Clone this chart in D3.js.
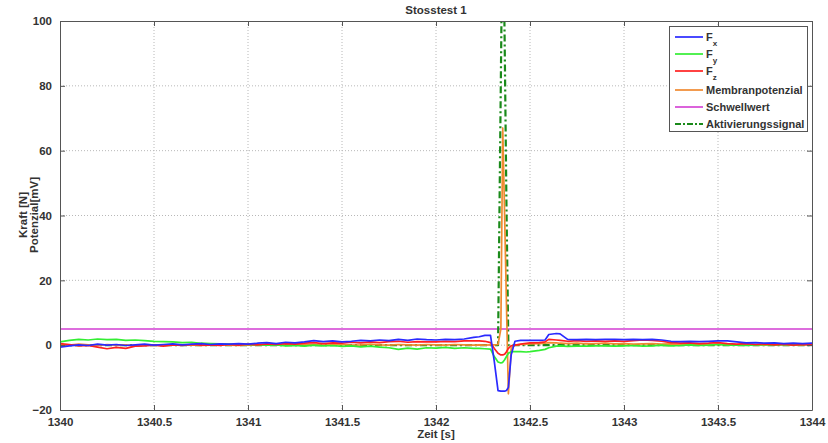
<!DOCTYPE html>
<html>
<head>
<meta charset="utf-8">
<script src="https://cdn.jsdelivr.net/npm/d3@7"></script>
<style>
  body { margin: 0; background: #fff; }
  text { font-family: "Liberation Sans", Arial, sans-serif; }
</style>
</head>
<body>
<div id="chart"></div>
<script>
// time axis [s]
const zeit = [
  1340.00, 1340.05, 1340.10, 1340.15, 1340.20, 1340.25, 1340.30, 1340.35, 1340.40, 1340.45,
  1340.50, 1340.55, 1340.60, 1340.65, 1340.70, 1340.75, 1340.80, 1340.85, 1340.90, 1340.95,
  1341.00, 1341.05, 1341.10, 1341.15, 1341.20, 1341.25, 1341.30, 1341.35, 1341.40, 1341.45,
  1341.50, 1341.55, 1341.60, 1341.65, 1341.70, 1341.75, 1341.80, 1341.85, 1341.90, 1341.95,
  1342.00, 1342.05, 1342.10, 1342.15, 1342.20,
  1342.23, 1342.26, 1342.29, 1342.31, 1342.33, 1342.345, 1342.355, 1342.365, 1342.375, 1342.385,
  1342.40, 1342.42, 1342.45, 1342.48,
  1342.50, 1342.55, 1342.58, 1342.60, 1342.64, 1342.66,
  1342.70, 1342.75, 1342.80, 1342.85, 1342.90, 1342.95, 1343.00, 1343.05, 1343.10, 1343.15,
  1343.20, 1343.25, 1343.30, 1343.35, 1343.40, 1343.45, 1343.50, 1343.55, 1343.60, 1343.65,
  1343.70, 1343.75, 1343.80, 1343.85, 1343.90, 1343.95, 1344.00
];

const fx = [
  -0.6, -0.2, 0.1, -0.1, 0.3, 0.0, 0.2, -0.1, 0.1, 0.3,
  0.0, 0.2, 0.4, 0.1, 0.3, 0.5, 0.2, 0.4, 0.3, 0.5,
  0.3, 0.6, 0.8, 0.5, 0.9, 0.7, 1.0, 1.4, 1.1, 1.3,
  1.0, 1.2, 1.5, 1.3, 1.6, 1.4, 1.8, 1.5, 1.9, 1.7,
  1.6, 1.8, 1.7, 1.9, 2.4,
  2.6, 3.0, 3.0, -5.0, -14.0, -14.2, -14.2, -14.2, -14.0, -13.0,
  -3.0, 1.2, 1.5, 1.5,
  1.5, 1.5, 1.6, 3.3, 3.6, 3.5,
  1.8, 1.7, 1.8, 1.7, 1.8, 1.8, 1.7, 1.8, 1.7, 1.8,
  1.6, 1.2, 1.1, 1.2, 1.1, 1.2, 1.3, 1.3, 1.0, 0.7,
  0.8, 0.6, 0.7, 0.5, 0.6, 0.5, 0.6
];

const fy = [
  1.0, 1.5, 1.8, 1.6, 1.9, 1.7, 1.8, 1.5, 1.6, 1.4,
  1.2, 1.1, 1.0, 0.8, 0.9, 0.6, 0.5, 0.4, 0.3, 0.2,
  0.2, 0.1, 0.0, 0.1, -0.2, -0.1, -0.3, 0.0, -0.2, -0.1,
  -0.4, -0.2, -0.5, -0.3, -0.6, -0.8, -1.3, -0.9, -1.2, -0.8,
  -0.9, -0.7, -1.0, -0.8, -1.0,
  -1.0, -1.1, -1.2, -3.5, -5.2, -5.5, -5.3, -4.5, -3.5, -2.5,
  -2.0, -2.0, -2.0, -2.1,
  -2.0, -1.6, -1.3, -0.8, -0.3, -0.2,
  -0.4, -0.3, -0.3, -0.2, -0.2, -0.3, -0.2, -0.1, -0.3, -0.2,
  0.0, -0.2, -0.1, 0.1, -0.1, 0.0, 0.2, 0.0, 0.1, -0.1,
  0.1, 0.2, 0.0, 0.2, 0.1, 0.3, 0.2
];

const fz = [
  0.5, 0.2, -0.2, -0.1, -0.6, -1.1, -0.7, -1.0, -0.3, -0.2,
  0.0, -0.3, 0.1, -0.1, 0.2, 0.0, 0.1, -0.1, 0.2, 0.0,
  0.3, 0.1, 0.4, 0.2, 0.5, 0.3, 0.6, 0.8, 0.5, 0.7,
  0.6, 0.9, 0.7, 1.0, 0.8, 1.1, 1.2, 0.9, 1.1, 1.0,
  1.0, 1.2, 1.1, 1.3, 1.3,
  1.3, 1.2, 0.8, -1.0, -2.5, -3.0, -3.0, -2.8, -2.0, -1.0,
  -0.2, 0.0, 0.3, 0.6,
  0.7, 0.8, 1.0, 1.8, 1.6, 1.5,
  1.2, 1.4, 1.2, 1.3, 1.2, 1.3, 1.2, 1.4, 1.6, 1.5,
  1.2, 0.8, 0.6, 0.7, 0.5, 0.6, 0.8, 0.5, 0.3, 0.5,
  0.2, 0.4, 0.1, 0.3, 0.0, 0.2, 0.1
];

const membranpotenzial = [
  0.2, 0.0, 0.3, 0.1, -0.1, 0.2, 0.0, 0.1, -0.2, 0.0,
  0.1, -0.1, 0.2, 0.0, 0.1, -0.1, 0.0, 0.2, 0.0, -0.1,
  0.1, 0.0, 0.2, 0.1, 0.0, 0.3, 0.1, 0.2, 0.0, 0.1,
  0.2, 0.0, 0.1, 0.3, 0.1, 0.0, 0.2, 0.1, 0.0, 0.2,
  0.1, 0.0, 0.2, 0.1, 0.0,
  0.1, 0.0, 0.1, 0.1, 0.2, 5.0, 67.0, 40.0, 12.0, -15.0,
  -1.0, 0.0, 0.2, 0.3,
  0.4, 0.5, 0.6, 0.8, 0.7, 0.6,
  0.5, 0.6, 0.4, 0.5, 0.6, 0.4, 0.5, 0.3, 0.4, 0.5,
  0.3, 0.4, 0.2, 0.3, 0.2, 0.1, 0.3, 0.2, 0.0, 0.2,
  0.1, 0.0, 0.2, 0.1, 0.0, 0.1, 0.2
];

const aktivierung = [
  0, 0, 0, 0, 0, 0, 0, 0, 0, 0,
  0, 0, 0, 0, 0, 0, 0, 0, 0, 0,
  0, 0, 0, 0, 0, 0, 0, 0, 0, 0,
  0, 0, 0, 0, 0, 0, 0, 0, 0, 0,
  0, 0, 0, 0, 0,
  0, 0, 0, 0, 0, 82, 140, 95, 42, 0,
  0, 0, 0, 0,
  0, 0, 0, 0, 0, 0,
  0, 0, 0, 0, 0, 0, 0, 0, 0, 0,
  0, 0, 0, 0, 0, 0, 0, 0, 0, 0,
  0, 0, 0, 0, 0, 0, 0
];

const schwellwert = [5, 5];
const schwellZeit = [1340, 1344];

const xTicks = [1340, 1340.5, 1341, 1341.5, 1342, 1342.5, 1343, 1343.5, 1344];
const yTicks = [-20, 0, 20, 40, 60, 80, 100];

const series = [
  {name: "F", sub: "x", values: fx, color: "#2a2aff", width: 1.7, dash: null},
  {name: "F", sub: "y", values: fy, color: "#33ee33", width: 1.7, dash: null},
  {name: "F", sub: "z", values: fz, color: "#ff2020", width: 1.7, dash: null},
  {name: "Membranpotenzial", sub: null, values: membranpotenzial, color: "#f08a30", width: 1.7, dash: null},
  {name: "Schwellwert", sub: null, values: null, color: "#d23cd2", width: 1.6, dash: null},
  {name: "Aktivierungssignal", sub: null, values: aktivierung, color: "#1a8a1a", width: 2.2, dash: "7,3,2,3"}
];

const W = 828, H = 443;
const margin = {top: 21, right: 16, bottom: 33, left: 60};
const width = W - margin.left - margin.right,
      height = H - margin.top - margin.bottom;

const svg = d3.select("#chart").append("svg").attr("width", W).attr("height", H);
const g = svg.append("g").attr("transform", `translate(${margin.left},${margin.top})`);

const x = d3.scaleLinear().domain([1340, 1344]).range([0, width]);
const y = d3.scaleLinear().domain([-20, 100]).range([height, 0]);

// grid
g.append("g").selectAll("line").data(xTicks.slice(1, -1)).join("line")
  .attr("x1", d => x(d)).attr("x2", d => x(d)).attr("y1", 0).attr("y2", height)
  .attr("stroke", "#b8b8b8").attr("stroke-dasharray", "1,2");
g.append("g").selectAll("line").data(yTicks.slice(1, -1)).join("line")
  .attr("y1", d => y(d)).attr("y2", d => y(d)).attr("x1", 0).attr("x2", width)
  .attr("stroke", "#b8b8b8").attr("stroke-dasharray", "1,2");

// lines
svg.append("clipPath").attr("id", "clip").append("rect")
  .attr("width", width).attr("height", height);
const plot = g.append("g").attr("clip-path", "url(#clip)");

const line = d3.line().x(d => x(d[0])).y(d => y(d[1]));

// Schwellwert
plot.append("path")
  .attr("d", line(schwellZeit.map((t, i) => [t, schwellwert[i]])))
  .attr("fill", "none").attr("stroke", series[4].color).attr("stroke-width", series[4].width);

[series[5], series[3], series[1], series[2], series[0]].forEach(s => {
  plot.append("path")
    .attr("d", line(zeit.map((t, i) => [t, s.values[i]])))
    .attr("fill", "none")
    .attr("stroke", s.color)
    .attr("stroke-width", s.width)
    .attr("stroke-linejoin", "round")
    .attr("stroke-dasharray", s.dash);
});

// axes (MATLAB style box with inward ticks)
const axisColor = "#555";
const tickFont = "bold 11.5px 'Liberation Sans', Arial, sans-serif";

g.append("g").attr("transform", `translate(0,${height})`)
  .call(d3.axisBottom(x).tickValues(xTicks).tickSizeInner(-5).tickSizeOuter(0).tickPadding(8)
    .tickFormat(d3.format("")));
g.append("g")
  .call(d3.axisLeft(y).tickValues(yTicks).tickSizeInner(-5).tickSizeOuter(0).tickPadding(8));
g.append("g")
  .call(d3.axisTop(x).tickValues(xTicks).tickSizeInner(-5).tickSizeOuter(0).tickFormat(""));
g.append("g").attr("transform", `translate(${width},0)`)
  .call(d3.axisRight(y).tickValues(yTicks).tickSizeInner(-5).tickSizeOuter(0).tickFormat(""));

g.selectAll(".domain, .tick line").attr("stroke", axisColor);
g.selectAll(".tick text").attr("fill", "#333").style("font", tickFont);

// title and labels
svg.append("text").attr("x", 436).attr("y", 14).attr("text-anchor", "middle")
  .attr("fill", "#333").style("font", "bold 11.5px 'Liberation Sans', Arial, sans-serif")
  .text("Stosstest 1");
svg.append("text").attr("x", 436).attr("y", 438).attr("text-anchor", "middle")
  .attr("fill", "#333").style("font", "bold 11.5px 'Liberation Sans', Arial, sans-serif")
  .text("Zeit [s]");
const yl = svg.append("text").attr("transform", "translate(27,215) rotate(-90)")
  .attr("text-anchor", "middle").attr("fill", "#333")
  .style("font", "bold 11.5px 'Liberation Sans', Arial, sans-serif");
yl.append("tspan").attr("x", 0).attr("dy", 0).text("Kraft [N]");
yl.append("tspan").attr("x", 0).attr("dy", 11).text("Potenzial[mV]");

// legend
const legY = [37, 54, 71, 90, 107, 124];
const leg = svg.append("g");
leg.append("rect").attr("x", 669.5).attr("y", 26.5).attr("width", 138).attr("height", 105)
  .attr("fill", "#fff").attr("stroke", axisColor);
series.forEach((s, i) => {
  leg.append("line").attr("x1", 675).attr("x2", 703).attr("y1", legY[i]).attr("y2", legY[i])
    .attr("stroke", s.color).attr("stroke-width", s.width)
    .attr("stroke-dasharray", s.dash ? "6,2,2,2" : null);
  const t = leg.append("text").attr("x", 706).attr("y", legY[i] + 4)
    .attr("fill", "#333").style("font", "bold 11px 'Liberation Sans', Arial, sans-serif");
  t.append("tspan").text(s.name);
  if (s.sub) t.append("tspan").attr("dy", 5).style("font-size", "8px").text(s.sub);
});
</script>
</body>
</html>
